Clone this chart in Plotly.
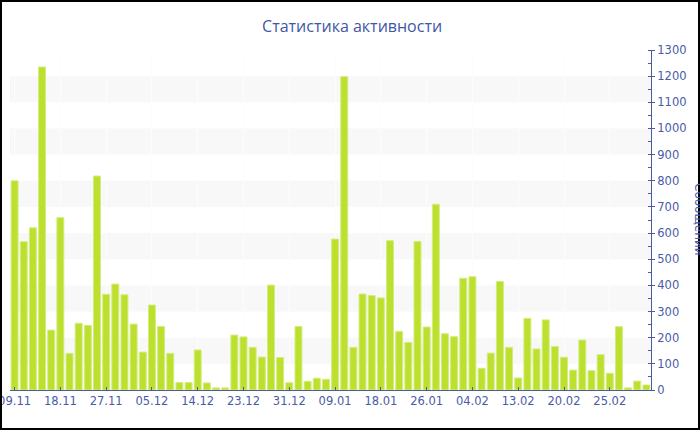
import plotly.graph_objects as go

title_text = "Статистика активности"
y_title = "Сообщений"

values = [800, 567, 620, 1235, 229, 659, 140, 255, 247, 818,
          366, 405, 364, 252, 145, 325, 243, 140, 29, 29,
          153, 27, 8, 8, 210, 203, 163, 126, 401, 124,
          28, 243, 33, 45, 41, 577, 1198, 163, 367, 361,
          352, 571, 224, 182, 568, 241, 710, 215, 204, 427,
          433, 83, 141, 415, 163, 46, 274, 157, 268, 166,
          125, 76, 191, 74, 135, 64, 242, 8, 34, 19]

bar_index = list(range(len(values)))

tick_positions = [0, 5, 10, 15, 20, 25, 30, 35, 40, 45, 50, 55, 60, 65]
tick_labels = ["09.11", "18.11", "27.11", "05.12", "14.12", "23.12", "31.12",
               "09.01", "18.01", "26.01", "04.02", "13.02", "20.02", "25.02"]

band_starts = [100, 300, 500, 700, 900, 1100]
band_width = 100

AXIS_BLUE = "#4a5ba6"
BAR_GREEN = "#bde02e"
W, H = 700, 430
ML, MR, MT, MB = 10, 49, 50, 40
PW, PH = W - ML - MR, H - MT - MB

fig = go.Figure()
fig.add_trace(go.Bar(
    x=bar_index, y=values,
    marker=dict(color=BAR_GREEN, line=dict(color="#d3ec80", width=1)),
    hoverinfo="y",
))

shapes = []
for b in band_starts:
    shapes.append(dict(type="rect", xref="paper", yref="y", x0=0, x1=1,
                       y0=b, y1=b + band_width, fillcolor="#f8f8f8",
                       line=dict(width=0), layer="below"))
# outer frame of the whole chart
shapes.append(dict(type="rect", xref="paper", yref="paper",
                   x0=(1 - ML) / PW, x1=(699 - ML) / PW,
                   y0=(H - MB - 429) / PH, y1=(H - MB - 1) / PH,
                   line=dict(color="black", width=2), layer="above"))

fig.update_layout(
    width=W, height=H,
    margin=dict(l=ML, r=MR, t=MT, b=MB, autoexpand=False),
    paper_bgcolor="white", plot_bgcolor="white",
    title=dict(text=title_text, x=0.503, xanchor="center", y=1 - 26 / H, yanchor="middle",
               font=dict(family="Open Sans", size=16, color="#4057a6")),
    bargap=0.24,
    showlegend=False,
    shapes=shapes,
    xaxis=dict(
        range=[-0.5, len(values) - 0.5], automargin=False,
        tickmode="array", tickvals=tick_positions, ticktext=tick_labels,
        ticklabeloverflow="allow",
        ticks="inside", ticklen=3, tickcolor=AXIS_BLUE,
        showline=True, linecolor=AXIS_BLUE, linewidth=1,
        showgrid=True, gridcolor="#fdfdfd", gridwidth=1,
        zeroline=False,
        tickfont=dict(family="DejaVu Sans", size=11.5, color=AXIS_BLUE),
    ),
    yaxis=dict(
        side="right", automargin=False,
        range=[0, 1300], dtick=100, tick0=0,
        ticklabeloverflow="allow",
        ticks="outside", ticklen=3, tickcolor=AXIS_BLUE,
        minor=dict(dtick=50, ticks="inside", ticklen=3, tickcolor=AXIS_BLUE, showgrid=False),
        showline=True, linecolor=AXIS_BLUE, linewidth=1,
        showgrid=False, zeroline=False,
        tickfont=dict(family="DejaVu Sans", size=11.5, color=AXIS_BLUE),
    ),
    annotations=[dict(
        text=y_title, textangle=90, xref="paper", yref="paper",
        x=(699 - ML) / PW, y=0.5, xanchor="center", yanchor="middle",
        showarrow=False, font=dict(family="DejaVu Sans", size=12, color=AXIS_BLUE),
    )],
)

fig.write_html("out.html", config={"displayModeBar": False},
               post_script="document.body.style.margin='0';document.body.style.padding='0';")
